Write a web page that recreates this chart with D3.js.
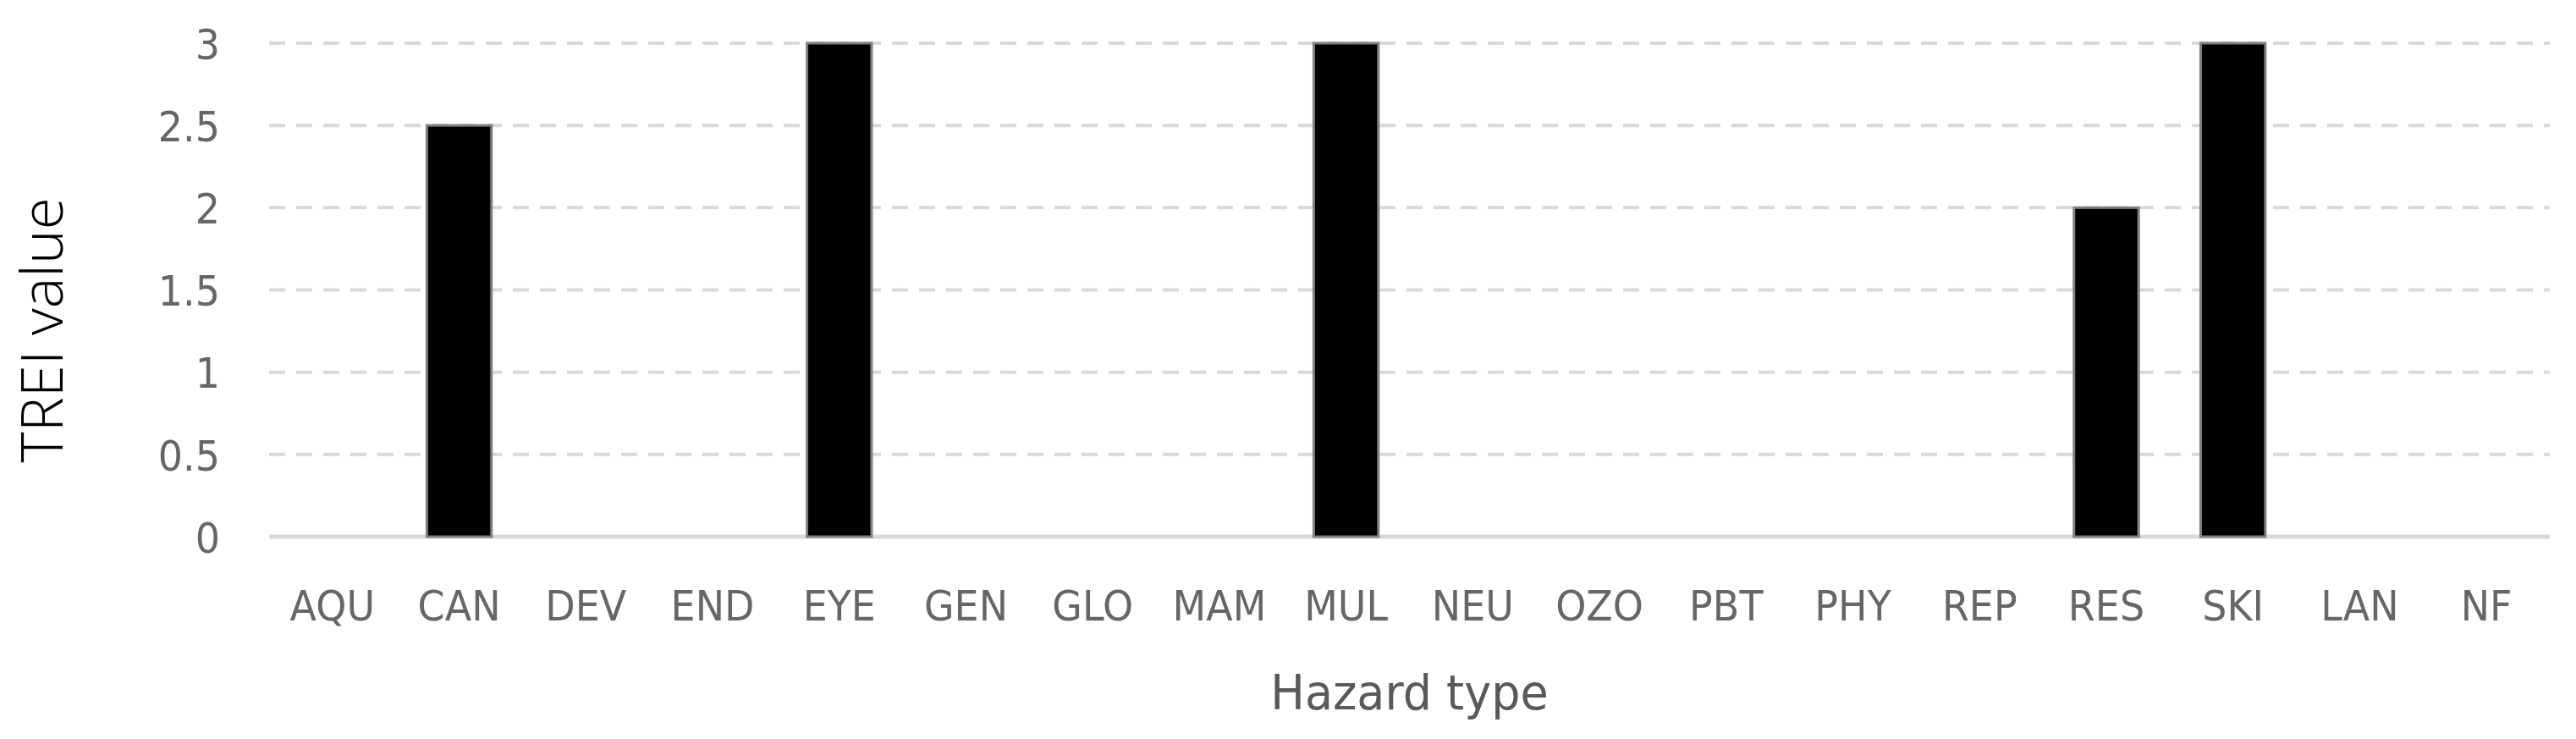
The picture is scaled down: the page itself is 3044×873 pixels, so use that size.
<!DOCTYPE html>
<html>
<head>
<meta charset="utf-8">
<script src="https://cdn.jsdelivr.net/npm/d3@7"></script>
<style>
  html, body { margin: 0; padding: 0; background: #fff; }
  svg { display: block; }
</style>
</head>
<body>
<svg id="chart" width="3044" height="873"></svg>
<script>
const categories = ["AQU","CAN","DEV","END","EYE","GEN","GLO","MAM","MUL","NEU","OZO","PBT","PHY","REP","RES","SKI","LAN","NF"];
const values = [0, 2.5, 0, 0, 3, 0, 0, 0, 3, 0, 0, 0, 0, 0, 2, 3, 0, 0];
const yTicks = [0, 0.5, 1, 1.5, 2, 2.5, 3];
const xTitle = "Hazard type";
const yTitle = "TREI value";

const svg = d3.select("#chart");
const W = 3044, H = 873;
const margin = {left: 318, right: W - 3013, top: 51, bottom: H - 634};
const stretch = 1.1;

const x = d3.scaleBand().domain(categories).range([margin.left, W - margin.right]).paddingInner(0.49).paddingOuter(0.245);
const y = d3.scaleLinear().domain([0, 3]).range([H - margin.bottom, margin.top]);

// gridlines
svg.append("g").selectAll("line").data(yTicks.filter(d => d > 0)).join("line")
  .attr("x1", margin.left).attr("x2", W - margin.right)
  .attr("y1", d => y(d)).attr("y2", d => y(d))
  .attr("stroke", "#d9d9d9").attr("stroke-width", 4).attr("stroke-dasharray", "19,13");

// baseline
svg.append("line").attr("x1", margin.left).attr("x2", W - margin.right)
  .attr("y1", y(0)).attr("y2", y(0)).attr("stroke", "#d9d9d9").attr("stroke-width", 5);

// bars
svg.append("g").selectAll("rect").data(categories.map((c, i) => ({c, v: values[i]})).filter(d => d.v > 0)).join("rect")
  .attr("x", d => x(d.c)).attr("width", x.bandwidth())
  .attr("y", d => y(d.v)).attr("height", d => y(0) - y(d.v))
  .attr("fill", "#000").attr("stroke", "#7f7f7f").attr("stroke-width", 3);

// y axis
const yAxis = d3.axisLeft(y).tickValues(yTicks).tickSize(0).tickPadding(0).tickFormat(d3.format("~g"));
const gy = svg.append("g").attr("transform", `translate(260,0)`).call(yAxis);
gy.select(".domain").remove();
gy.selectAll("text").attr("font-family", "DejaVu Sans").attr("font-size", 46).attr("fill", "#666")
  .attr("dy", "0.36em").attr("transform", `scale(1,${stretch})`);

// x axis
const xAxis = d3.axisBottom(x).tickSize(0).tickPadding(0);
const gx = svg.append("g").attr("transform", `translate(0,${y(0)})`).call(xAxis);
gx.select(".domain").remove();
gx.selectAll("text").attr("font-family", "DejaVu Sans").attr("font-size", 46).attr("fill", "#666")
  .attr("dy", null).attr("y", 99 / stretch).attr("transform", `scale(1,${stretch})`);

// titles
svg.append("text").attr("transform", `translate(${(margin.left + W - margin.right) / 2},838) scale(1,1.06)`)
  .attr("text-anchor", "middle").attr("font-family", "DejaVu Sans").attr("font-size", 54).attr("fill", "#595959").text(xTitle);
svg.append("text").attr("transform", `translate(74,390) rotate(-90)`)
  .attr("text-anchor", "middle").attr("font-family", "Open Sans").attr("font-weight", 300).attr("font-size", 69).attr("fill", "#000").text(yTitle);
</script>
</body>
</html>
